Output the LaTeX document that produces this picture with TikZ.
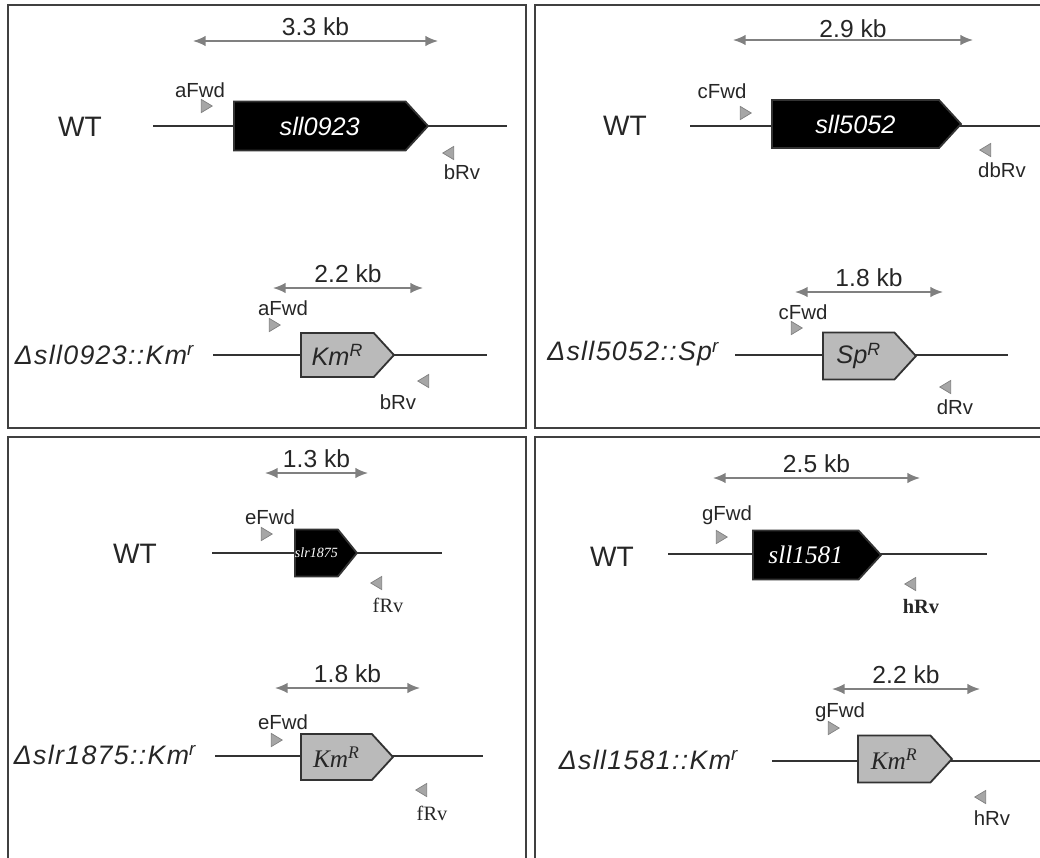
\documentclass[tikz,border=0pt]{standalone}
\usepackage{fontspec}
\setmainfont{Liberation Sans}
\newfontfamily\timesfont{Liberation Serif}
\usetikzlibrary{arrows.meta}
\usetikzlibrary{shapes.geometric}
\usetikzlibrary{shapes.symbols}

\tikzset{
  frame/.style={draw=black!75,line width=1.4pt},
  dna/.style={black!80,line width=1.3pt},
  gene/.style={signal,signal to=east,signal pointer angle=95,anchor=west,
    draw=black!80,line width=1.3pt,fill=black,text=white,inner sep=0pt,
    font=\fontsize{18}{18}\selectfont\itshape},
  marker/.style={gene,fill=black!27,text=black!85},
  size/.style={black!50,line width=1.2pt,{Latex[length=9pt,width=7.5pt]}-{Latex[length=9pt,width=7.5pt]}},
  kb/.style={text=black!85,font=\fontsize{17.5}{17.5}\selectfont},
  fwd/.style={isosceles triangle,isosceles triangle apex angle=62,
    fill=black!35,draw=black!50,line width=0.5pt,inner sep=0pt,minimum size=7.8pt},
  rev/.style={fwd,shape border rotate=180},
  primer/.style={text=black!85,font=\fontsize{14.5}{14.5}\selectfont},
  strain/.style={text=black!85,font=\fontsize{20}{20}\selectfont},
  mutant/.style={anchor=east,text=black!85,
    font=\fontsize{19}{19}\selectfont\itshape\addfontfeatures{LetterSpace=5}}
}

\begin{document}
\begin{tikzpicture}[x=0.025cm,y=-0.025cm]

\useasboundingbox (0,0) rectangle (1040,857);
\clip (0,0) rectangle (1040,857);

\draw[frame] (8,5) rectangle (526,428);
\draw[frame] (535,5) rectangle (1050,428);
\draw[frame] (8,437) rectangle (526,870);
\draw[frame] (535,437) rectangle (1050,870);

% sll0923
\node[strain] (wtA) at (80,127) {WT};
\coordinate (A1) at (153,126);
\coordinate (A2) at (507,126);
\draw[dna] (A1)--(A2);
\node[gene,minimum width=4.85cm,minimum height=1.225cm] (sll0923) at (233,126) {sll0923};
\coordinate (kA1) at (193,41);
\coordinate (kA2) at (438,41);
\draw[size] (kA1)--(kA2) node[kb,midway,above=0pt] (kbA) {3.3 kb};
\node[fwd] (aFwd) at (205,106) {};
\node[primer] (aFwdt) at (200,90) {aFwd};
\node[rev] (bRv) at (450,153) {};
\node[primer] (bRvt) at (462,172) {bRv};

\node[mutant] (mutA) at (199,355) {Δsll0923::Km\textsuperscript{r}};
\coordinate (A3) at (213,355);
\coordinate (A4) at (487,355);
\draw[dna] (A3)--(A4);
\node[marker,minimum width=2.325cm,minimum height=1.1cm] (kmA) at (300,355) {Km\textsuperscript{R}};
\coordinate (kA3) at (273,288);
\coordinate (kA4) at (423,288);
\draw[size] (kA3)--(kA4) node[kb,midway,above=0pt] (kbA2) {2.2 kb};
\node[fwd] (aFwd2) at (273,325) {};
\node[primer] (aFwd2t) at (283,308) {aFwd};
\node[rev] (bRv2) at (425,381) {};
\node[primer] (bRv2t) at (398,402) {bRv};

% sll5052
\node[strain] (wtB) at (625,126) {WT};
\coordinate (B1) at (690,126);
\coordinate (B2) at (1045,126);
\draw[dna] (B1)--(B2);
\node[gene,minimum width=4.725cm,minimum height=1.2cm] (sll5052) at (771,124) {sll5052};
\coordinate (kB1) at (733,40);
\coordinate (kB2) at (973,40);
\draw[size] (kB1)--(kB2) node[kb,midway,above=-2pt] (kbB) {2.9 kb};
\node[fwd] (cFwd) at (744,113) {};
\node[primer] (cFwdt) at (722,91) {cFwd};
\node[rev] (dbRv) at (987,150) {};
\node[primer] (dbRvt) at (1002,170) {dbRv};

\node[mutant] (mutB) at (724,354) {Δsll5052::Sp\textsuperscript{r}};
\coordinate (B3) at (735,355);
\coordinate (B4) at (1008,355);
\draw[dna] (B3)--(B4);
\node[marker,minimum width=2.325cm,minimum height=1.175cm] (spB) at (822,356) {Sp\textsuperscript{R}};
\coordinate (kB3) at (795,292);
\coordinate (kB4) at (943,292);
\draw[size] (kB3)--(kB4) node[kb,midway,above=0pt] (kbB2) {1.8 kb};
\node[fwd] (cFwd2) at (795,328) {};
\node[primer] (cFwd2t) at (803,312) {cFwd};
\node[rev] (dRv) at (947,387) {};
\node[primer] (dRvt) at (955,407) {dRv};

% slr1875
\node[strain] (wtC) at (135,554) {WT};
\coordinate (C1) at (212,553);
\coordinate (C2) at (442,553);
\draw[dna] (C1)--(C2);
\node[gene,minimum width=1.325cm,minimum height=1.175cm,signal pointer angle=102,
  font=\fontsize{10}{10}\selectfont\timesfont\itshape] (slr1875) at (294,553) {slr1875};
\coordinate (kC1) at (265,473);
\coordinate (kC2) at (368,473);
\draw[size] (kC1)--(kC2) node[kb,midway,above=0pt] (kbC) {1.3 kb};
\node[fwd] (eFwd) at (265,534) {};
\node[primer] (eFwdt) at (270,517) {eFwd};
\node[rev] (fRv) at (378,583) {};
\node[primer,font=\fontsize{14.5}{14.5}\selectfont\timesfont] (fRvt) at (388,605) {fRv};

\node[mutant] (mutC) at (201,755) {Δslr1875::Km\textsuperscript{r}};
\coordinate (C3) at (215,756);
\coordinate (C4) at (483,756);
\draw[dna] (C3)--(C4);
\node[marker,minimum width=2.3cm,minimum height=1.15cm,
  font=\fontsize{18}{18}\selectfont\timesfont\itshape] (kmC) at (300,757) {Km\textsuperscript{R}};
\coordinate (kC3) at (275,688);
\coordinate (kC4) at (420,688);
\draw[size] (kC3)--(kC4) node[kb,midway,above=0pt] (kbC2) {1.8 kb};
\node[fwd] (eFwd2) at (275,740) {};
\node[primer] (eFwd2t) at (283,722) {eFwd};
\node[rev] (fRv2) at (423,790) {};
\node[primer,font=\fontsize{14.5}{14.5}\selectfont\timesfont] (fRv2t) at (432,813) {fRv};

% sll1581
\node[strain] (wtD) at (612,557) {WT};
\coordinate (D1) at (668,554);
\coordinate (D2) at (987,554);
\draw[dna] (D1)--(D2);
\node[gene,minimum width=3.2cm,minimum height=1.225cm,
  font=\fontsize{18}{18}\selectfont\timesfont\itshape] (sll1581) at (752,555) {sll1581};
\coordinate (kD1) at (713,478);
\coordinate (kD2) at (920,478);
\draw[size] (kD1)--(kD2) node[kb,midway,above=0pt] (kbD) {2.5 kb};
\node[fwd] (gFwd) at (720,537) {};
\node[primer] (gFwdt) at (727,515) {gFwd};
\node[rev] (hRv) at (912,584) {};
\node[primer,font=\fontsize{14.5}{14.5}\selectfont\timesfont\bfseries] (hRvt) at (921,607) {hRv};

\node[mutant] (mutD) at (743,760) {Δsll1581::Km\textsuperscript{r}};
\coordinate (D3) at (772,761);
\coordinate (D4) at (1045,761);
\draw[dna] (D3)--(D4);
\node[marker,minimum width=2.35cm,minimum height=1.175cm,
  font=\fontsize{18}{18}\selectfont\timesfont\itshape] (kmD) at (857,759) {Km\textsuperscript{R}};
\coordinate (kD3) at (832,689);
\coordinate (kD4) at (980,689);
\draw[size] (kD3)--(kD4) node[kb,midway,above=0pt] (kbD2) {2.2 kb};
\node[fwd] (gFwd2) at (832,728) {};
\node[primer] (gFwd2t) at (840,712) {gFwd};
\node[rev] (hRv2) at (982,797) {};
\node[primer] (hRv2t) at (992,818) {hRv};

\end{tikzpicture}
\end{document}
